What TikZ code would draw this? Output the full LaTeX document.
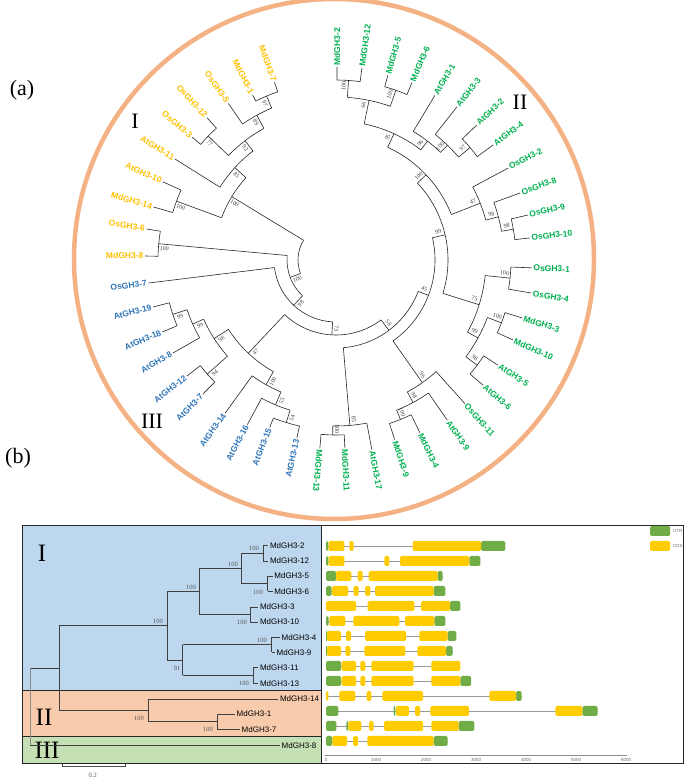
\documentclass[tikz,border=0pt]{standalone}
\usepackage{fontspec}
\setmainfont{Liberation Serif}
\setsansfont{Liberation Sans}

\definecolor{grpI}{HTML}{FFC000}
\definecolor{grpII}{HTML}{00B050}
\definecolor{grpIII}{HTML}{2E75B6}
\definecolor{ringcol}{HTML}{F4B183}
\definecolor{bgI}{HTML}{BDD7EE}
\definecolor{bgII}{HTML}{F8CBAD}
\definecolor{bgIII}{HTML}{C5E0B4}
\definecolor{utrgreen}{HTML}{70AD47}
\definecolor{cdsyellow}{HTML}{FFCC00}

\begin{document}
\begin{tikzpicture}[x=1pt,y=1pt,
    leaf/.style={font=\sffamily\bfseries\fontsize{8.5}{10}\selectfont,inner sep=1.5pt},
    boot/.style={font=\fontsize{6}{7}\selectfont,text=black!75,inner sep=0pt},
    branch/.style={line width=0.6pt,black!85},
    clade/.style={font=\fontsize{22}{24}\selectfont},
    panel/.style={font=\fontsize{22}{24}\selectfont},
    gene/.style={font=\sffamily\fontsize{8}{9}\selectfont,inner sep=1.5pt},
    bootb/.style={font=\fontsize{6.5}{7}\selectfont,text=black!65,inner sep=0pt},
    tree/.style={line width=0.7pt,black!75},
    utr/.style={fill=utrgreen,rounded corners=1.5pt},
    cds/.style={fill=cdsyellow,rounded corners=1.5pt},
    intron/.style={draw=black!40,line width=0.8pt},
    tick/.style={font=\sffamily\fontsize{4.5}{5}\selectfont,text=black!60,inner sep=0pt}]

\begin{scope}[shift={(0,780)},yscale=-1]
\useasboundingbox (0,0) rectangle (685,780);

% ---------- (a) circular tree ----------
\node[panel] (pa) at (22,90) {(a)};
\node[panel] (pb) at (18,458) {(b)};
\draw[ringcol,line width=4.5pt] (334,259) circle[radius=260];
\node[clade] (cI) at (135,121) {I};
\node[clade] (cII) at (520,102) {II};
\node[clade] (cIII) at (152,421) {III};

\begin{scope}[shift={(336,260)},yscale=-1]
  % root
  \draw[branch] (148.7:38) arc[start angle=148.7,end angle=200.8,radius=38];
  % inner nodes: angle/radius/parent radius/arc from/arc to/bootstrap
  \foreach \a/\r/\p/\s/\e/\b [count=\i] in {
      86.0/180/163/82.3/89.7/100, 70.55/180/163/66.8/74.3/100,
      78.3/163/139/70.55/86.0/66, 40.0/175/160/36.2/43.8/97,
      45.85/160/150/40.0/51.7/100, 52.4/150/139/45.85/59.0/96,
      65.35/139/124/52.4/78.3/95, 9.85/180/168/6.5/13.2/98,
      14.9/168/155/9.85/20.0/98, 21.5/155/124/14.9/28.1/47,
      43.4/124/112/21.5/65.35/100, -5.95/175/150/-9.6/-2.3/100,
      -20.8/177/162/-24.3/-17.3/100, -36.7/176/162/-40.4/-33.0/98,
      -28.75/162/150/-36.7/-20.8/99, -17.35/150/112/-28.75/-5.95/75,
      13.0/112/99/-17.35/43.4/99, -68.0/172/162/-71.9/-64.1/100,
      -61.6/162/150/-68.0/-55.2/98, -54.85/150/99/-61.6/-48.1/96,
      -20.9/99/88/-54.85/13.0/45, -91.1/175/166/-94.9/-87.3/100,
      -85.2/166/88/-91.1/-79.3/85, -53.05/88/75/-85.2/-20.9/58,
      -161.55/172/157/-165.6/-157.5/99, -155.9/157/145/-161.55/-150.3/99,
      -138.45/172/145/-142.1/-134.8/94, -147.2/145/128/-155.9/-138.45/98,
      -107.0/170/157/-111.6/-102.4/54, -112.65/157/143/-118.3/-107.0/55,
      -119.3/143/128/-125.9/-112.65/100, -133.25/128/75/-147.2/-119.3/47,
      -93.15/75/62/-133.25/-53.05/73, -133.1/62/49/-173.0/-93.15/98,
      174.75/178/49/170.7/178.8/100, 200.8/49/38/174.75/226.9/100,
      112.95/178/165/109.1/116.8/97, 118.7/165/150/112.95/124.5/89,
      135.85/178/150/132.2/139.5/77, 127.3/150/137/118.7/135.85/92,
      137.6/137/122/127.3/147.9/85, 159.75/170/122/155.7/163.8/100,
      148.7/122/38/137.6/159.75/100}{
    \draw[branch] (\a:\p) -- (\a:\r);
    \draw[branch] (\s:\r) arc[start angle=\s,end angle=\e,radius=\r];
    \pgfmathsetmacro\rot{cos(\a)<-0.1 ? \a+180 : \a}
    \node[boot,rotate=\rot] (bs\i) at ({\a+260/\r}:{\r-6}) {\b};
  }
  % group II leaves
  \foreach \a/\r/\p/\t in {
      89.7/193/180/MdGH3-2, 82.3/194/180/MdGH3-12, 74.3/192/180/MdGH3-5,
      66.8/193/180/MdGH3-6, 59.0/192/150/AtGH3-1, 51.7/195/160/AtGH3-3,
      43.8/195/175/AtGH3-2, 36.2/195/175/AtGH3-4, 28.1/195/155/OsGH3-2,
      20.0/196/168/OsGH3-8, 13.2/197/180/OsGH3-9, 6.5/195/180/OsGH3-10,
      -2.3/196/175/OsGH3-1, -9.6/198/175/OsGH3-4, -17.3/195/177/MdGH3-3,
      -24.3/194/177/MdGH3-10, -33.0/193/176/AtGH3-5, -40.4/193/176/AtGH3-6,
      -48.1/193/150/OsGH3-11, -55.2/195/162/AtGH3-9, -64.1/192/172/MdGH3-4,
      -71.9/189/172/MdGH3-9, -79.3/193/166/AtGH3-17, -87.3/188/175/MdGH3-11,
      -94.9/189/175/MdGH3-13}{
    \draw[branch] (\a:\p) -- (\a:\r);
    \node[leaf,text=grpII,anchor=west,rotate=\a] (tip \t) at (\a:\r) {\t};
  }
  % group III leaves
  \foreach \a/\r/\p/\t in {
      257.6/182/170/AtGH3-13, 248.4/180/170/AtGH3-15, 241.7/187/157/AtGH3-16,
      234.1/189/143/AtGH3-14, 225.2/189/172/AtGH3-7, 217.9/189/172/AtGH3-12,
      209.7/188/157/AtGH3-8, 202.5/188/172/AtGH3-18, 194.4/189/172/AtGH3-19,
      187.0/189/62/OsGH3-7}{
    \draw[branch] (\a:\p) -- (\a:\r);
    \node[leaf,text=grpIII,anchor=east,rotate=\a+180] (tip \t) at (\a:\r) {\t};
  }
  % group I leaves
  \foreach \a/\r/\p/\t in {
      178.8/191/178/MdGH3-8, 170.7/192/178/OsGH3-6, 163.8/190/170/MdGH3-14,
      155.7/190/170/AtGH3-10, 147.9/190/137/AtGH3-11, 139.5/189/178/OsGH3-3,
      132.2/192/178/OsGH3-12, 124.5/190/165/OsGH3-5, 116.8/185/178/MdGH3-1,
      109.1/188/178/MdGH3-7}{
    \draw[branch] (\a:\p) -- (\a:\r);
    \node[leaf,text=grpI,anchor=east,rotate=\a+180] (tip \t) at (\a:\r) {\t};
  }
\end{scope}

% ---------- (b) tree and gene structure ----------
\fill[bgI] (22,525) rectangle (321,690);
\fill[bgII] (22,690) rectangle (321,736);
\fill[bgIII] (22,736) rectangle (321,763);
\draw[black!85,line width=0.8pt] (22,525) rectangle (321,763);
\draw[black!85,line width=0.8pt] (22,690) -- (321,690);
\draw[black!85,line width=0.8pt] (22,736) -- (321,736);
\draw[black!85,line width=0.8pt] (321,525) rectangle (683.5,763);
\node[clade,font=\fontsize{25}{27}\selectfont] (bI) at (42,553) {I};
\node[clade,font=\fontsize{25}{27}\selectfont] (bII) at (44,717) {II};
\node[clade,font=\fontsize{25}{27}\selectfont] (bIII) at (47,750) {III};

% inner nodes: x/top/bottom/parent x
\foreach \x/\ya/\yb/\p in {263.3/545.7/561.0/241, 267.7/576.0/591.3/241,
    241/553.35/583.65/199.3, 250/607/622/199.3, 199.3/568.5/614.5/167.3,
    271.7/637.3/652.3/182.7, 253.3/667.7/683.3/182.7,
    182.7/644.8/675.5/167.3, 167.3/591.5/660.15/59.3,
    217.3/714/729.3/148.3, 148.3/699/721.65/59.3, 59.3/625.8/710.3/30}{
  \draw[tree] (\x,\ya) -- (\x,\yb);
  \draw[tree] (\p,{(\ya+\yb)/2}) -- (\x,{(\ya+\yb)/2});
}
\draw[black!45,line width=0.7pt] (30,668) -- (30,745.3);
% leaves
\foreach \y/\x/\p/\t in {545.7/268.3/263.3/MdGH3-2, 561.0/268.3/263.3/MdGH3-12,
    576.0/272.7/267.7/MdGH3-5, 591.3/272.7/267.7/MdGH3-6,
    607.0/258.3/250/MdGH3-3, 622.0/258.3/250/MdGH3-10,
    637.3/280/271.7/MdGH3-4, 652.3/275/271.7/MdGH3-9,
    667.7/258.3/253.3/MdGH3-11, 683.3/258.3/253.3/MdGH3-13,
    699.0/278.3/148.3/MdGH3-14, 714.0/235/217.3/MdGH3-1,
    729.3/240/217.3/MdGH3-7, 745.3/280/30/MdGH3-8}{
  \draw[tree] (\p,\y) -- (\x,\y);
  \node[gene,anchor=west] (row \t) at (\x,\y) {\t};
}
\foreach \x/\y/\b [count=\i] in {254/548/100, 258/592/100, 233/564/100,
    242/622/100, 191/587/100, 262/640/100, 244/683/100, 177/668/91,
    158/621/100, 208/729/100, 139/718/100}
  \node[bootb] (bb\i) at (\x,\y) {\b};

% scale bar
\draw[black!70] (61.7,764) -- (61.7,766.7) -- (125,766.7) -- (125,764);
\node[bootb] (bar) at (92.7,775) {0.2};

% gene structures, x in bp
\begin{scope}[xshift=326pt,x=0.05pt]
  \draw[black!45,line width=0.6pt] (-30,755.7) -- (6020,755.7);
  \foreach \v in {0,1000,...,6000}
    \node[tick] (ax\v) at (\v,759.5) {\v};

  % MdGH3-2
  \draw[intron] (0,546) -- (3587,546);
  \foreach \s/\e in {0/47,3100/3587} \path[utr] (\s,541) rectangle (\e,551);
  \foreach \s/\e in {53/367,467/553,1733/3100} \path[cds] (\s,541) rectangle (\e,551);
  % MdGH3-12
  \draw[intron] (0,561) -- (3087,561);
  \foreach \s/\e in {0/47,2867/3087} \path[utr] (\s,556) rectangle (\e,566);
  \foreach \s/\e in {53/367,1167/1267,1480/2867} \path[cds] (\s,556) rectangle (\e,566);
  % MdGH3-5
  \draw[intron] (0,576) -- (2333,576);
  \foreach \s/\e in {0/200,2233/2333} \path[utr] (\s,571) rectangle (\e,581);
  \foreach \s/\e in {200/507,633/733,853/2233} \path[cds] (\s,571) rectangle (\e,581);
  % MdGH3-6
  \draw[intron] (0,591) -- (2387,591);
  \foreach \s/\e in {0/113,2153/2387} \path[utr] (\s,586) rectangle (\e,596);
  \foreach \s/\e in {120/440,553/653,780/887,980/2153} \path[cds] (\s,586) rectangle (\e,596);
  % MdGH3-3
  \draw[intron] (0,606) -- (2687,606);
  \foreach \s/\e in {2480/2687} \path[utr] (\s,601) rectangle (\e,611);
  \foreach \s/\e in {0/600,833/1767,1900/2480} \path[cds] (\s,601) rectangle (\e,611);
  % MdGH3-10
  \draw[intron] (0,621) -- (2387,621);
  \foreach \s/\e in {0/53,2167/2387} \path[utr] (\s,616) rectangle (\e,626);
  \foreach \s/\e in {67/387,547/1467,1580/2167} \path[cds] (\s,616) rectangle (\e,626);
  % MdGH3-4
  \draw[intron] (0,636) -- (2607,636);
  \foreach \s/\e in {0/20,2433/2607} \path[utr] (\s,631) rectangle (\e,641);
  \foreach \s/\e in {20/300,400/500,780/1600,1867/2433} \path[cds] (\s,631) rectangle (\e,641);
  % MdGH3-9
  \draw[intron] (0,651) -- (2533,651);
  \foreach \s/\e in {0/20,2400/2533} \path[utr] (\s,646) rectangle (\e,656);
  \foreach \s/\e in {20/300,387/487,767/1587,1827/2400} \path[cds] (\s,646) rectangle (\e,656);
  % MdGH3-11
  \draw[intron] (0,666) -- (2687,666);
  \foreach \s/\e in {0/300} \path[utr] (\s,661) rectangle (\e,671);
  \foreach \s/\e in {313/600,687/787,907/1753,2107/2687} \path[cds] (\s,661) rectangle (\e,671);
  % MdGH3-13
  \draw[intron] (0,681) -- (2900,681);
  \foreach \s/\e in {0/300,2687/2900} \path[utr] (\s,676) rectangle (\e,686);
  \foreach \s/\e in {313/600,687/787,907/1753,2107/2687} \path[cds] (\s,676) rectangle (\e,686);
  % MdGH3-14
  \draw[intron] (0,696) -- (3913,696);
  \foreach \s/\e in {3800/3913} \path[utr] (\s,691) rectangle (\e,701);
  \foreach \s/\e in {0/47,267/587,813/907,1127/1940,3267/3800} \path[cds] (\s,691) rectangle (\e,701);
  % MdGH3-1
  \draw[intron] (0,711) -- (5433,711);
  \foreach \s/\e in {0/247,1353/1387,5127/5433} \path[utr] (\s,706) rectangle (\e,716);
  \foreach \s/\e in {1400/1660,1780/1880,2087/2860,4587/5127} \path[cds] (\s,706) rectangle (\e,716);
  % MdGH3-7
  \draw[intron] (0,726) -- (2967,726);
  \foreach \s/\e in {0/207,407/440,2653/2967} \path[utr] (\s,721) rectangle (\e,731);
  \foreach \s/\e in {447/707,860/953,1160/1940,2107/2653} \path[cds] (\s,721) rectangle (\e,731);
  % MdGH3-8
  \draw[intron] (0,741) -- (2433,741);
  \foreach \s/\e in {0/127,2153/2433} \path[utr] (\s,736) rectangle (\e,746);
  \foreach \s/\e in {127/420,540/640,827/2153} \path[cds] (\s,736) rectangle (\e,746);
\end{scope}

% legend
\path[utr] (650,526) rectangle (670,536);
\node[tick,anchor=west] (lutr) at (673,531) {UTR};
\path[cds] (650,541) rectangle (670,551);
\node[tick,anchor=west] (lcds) at (673,546) {CDS};
\end{scope}
\end{tikzpicture}
\end{document}
